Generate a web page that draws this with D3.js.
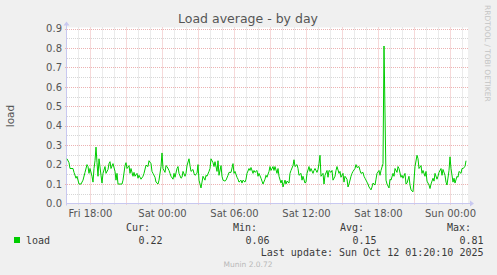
<!DOCTYPE html>
<html>
<head>
<meta charset="utf-8">
<script src="https://cdn.jsdelivr.net/npm/d3@7"></script>
<style>
  html, body { margin: 0; padding: 0; background: #f0f0f0; }
  svg { display: block; font-family: "DejaVu Sans", sans-serif; }
</style>
</head>
<body>
<svg id="chart" width="497" height="275"></svg>
<script>
// ===============================
// data
// ===============================
// 5-minute slot number since Fri 16:05 (slot 0) and the load value
const slots = [
  0, 2, 3, 6, 7, 9, 10, 12, 14, 16, 18, 20, 21, 22, 23, 25, 26, 27, 28, 29,
  30, 31, 32, 34, 35, 36, 38, 39, 41, 42, 43, 44, 46, 48, 49, 50, 51, 53, 55, 56,
  58, 59, 60, 62, 63, 64, 66, 67, 68, 70, 71, 72, 74, 76, 77,
  79, 81, 82, 84, 85, 86, 88, 89, 91, 92, 94, 95, 96, 98, 99, 100, 102, 103, 104, 106,
  107, 108, 110, 111, 112, 114, 115, 116, 118, 119, 120, 122, 123, 124, 126, 127, 128, 130, 131, 132,
  134, 135, 136, 138, 139, 140, 142, 143, 144, 146, 147, 148, 150, 151, 152, 154, 155, 156, 158,
  159, 161, 162, 164, 166, 167, 168, 170, 171, 172, 174, 175, 176, 178, 179, 180, 182, 183, 184, 186,
  187, 188, 190, 191, 192, 194, 195, 196, 198, 199, 200, 202, 203, 204, 206, 207, 208, 210, 211, 212,
  214, 215, 216, 218, 219, 220, 222, 223, 224, 226, 227, 228, 230, 231, 232, 234, 235, 236, 238,
  239, 240, 242, 243, 244, 246, 247, 248, 250, 251, 252, 253, 254, 256, 257, 258, 260, 261, 262, 264,
  265, 266, 268, 269, 270, 272, 273, 274, 276, 277, 278, 280, 281, 282, 284, 285, 286, 288, 289, 290,
  292, 293, 294, 296, 297, 298, 300, 301, 302, 304, 305, 306, 308, 309, 310, 312, 313, 314, 316, 317,
  319, 320, 322, 323, 324, 326, 327, 328, 330, 331, 332, 334, 335, 336, 338, 339, 340, 342, 343, 344,
  346, 347, 348, 350, 351, 352, 354, 355, 356, 358, 359, 360, 362, 363, 364, 366, 367, 368, 370, 371,
  372, 374, 375, 376, 378, 379, 380, 382, 383, 384, 386, 387, 388, 390, 391, 392, 394, 395, 396, 398, 399
];
const load = [
  0.23, 0.21, 0.18, 0.18, 0.16, 0.13, 0.14, 0.10, 0.10, 0.12, 0.16, 0.20, 0.19, 0.155, 0.18, 0.14, 0.11, 0.18, 0.22, 0.29,
  0.21, 0.14, 0.23, 0.145, 0.105, 0.155, 0.19, 0.155, 0.175, 0.205, 0.215, 0.18, 0.205, 0.165, 0.12, 0.155, 0.10, 0.10, 0.10, 0.12,
  0.195, 0.21, 0.18, 0.195, 0.155, 0.18, 0.14, 0.16, 0.14, 0.155, 0.13, 0.145, 0.125, 0.14, 0.155,
  0.197, 0.19, 0.22, 0.205, 0.165, 0.155, 0.135, 0.11, 0.10, 0.12, 0.19, 0.26, 0.18, 0.16, 0.195, 0.19, 0.17, 0.155, 0.14, 0.125,
  0.155, 0.135, 0.18, 0.19, 0.155, 0.13, 0.135, 0.165, 0.14, 0.155, 0.195, 0.23, 0.195, 0.165, 0.175, 0.155, 0.145, 0.155, 0.20, 0.12,
  0.08, 0.11, 0.14, 0.12, 0.145, 0.14, 0.165, 0.18, 0.23, 0.21, 0.19, 0.215, 0.165, 0.22, 0.145, 0.195, 0.14, 0.12, 0.115,
  0.12, 0.145, 0.16, 0.16, 0.205, 0.155, 0.165, 0.135, 0.125, 0.11, 0.12, 0.105, 0.12, 0.11, 0.125, 0.155, 0.18, 0.17, 0.185, 0.155,
  0.17, 0.16, 0.17, 0.14, 0.155, 0.13, 0.115, 0.10, 0.125, 0.145, 0.135, 0.165, 0.19, 0.17, 0.19, 0.17, 0.19, 0.155, 0.18, 0.14,
  0.105, 0.12, 0.085, 0.12, 0.10, 0.115, 0.105, 0.155, 0.17, 0.195, 0.225, 0.19, 0.20, 0.18, 0.145, 0.155, 0.12, 0.14, 0.105,
  0.11, 0.155, 0.19, 0.165, 0.18, 0.155, 0.17, 0.18, 0.16, 0.175, 0.205, 0.248, 0.14, 0.155, 0.10, 0.145, 0.17, 0.135, 0.17, 0.16,
  0.17, 0.12, 0.14, 0.17, 0.19, 0.155, 0.165, 0.135, 0.155, 0.11, 0.14, 0.125, 0.085, 0.10, 0.14, 0.155, 0.165, 0.18, 0.20, 0.185,
  0.19, 0.17, 0.155, 0.16, 0.14, 0.13, 0.11, 0.10, 0.085, 0.07, 0.085, 0.105, 0.095, 0.125, 0.155, 0.17, 0.145, 0.17, 0.205, 0.81,
  0.12, 0.10, 0.08, 0.125, 0.12, 0.155, 0.14, 0.18, 0.16, 0.19, 0.18, 0.135, 0.145, 0.13, 0.155, 0.10, 0.105, 0.14, 0.095, 0.07,
  0.06, 0.12, 0.19, 0.248, 0.23, 0.18, 0.195, 0.155, 0.17, 0.14, 0.165, 0.115, 0.095, 0.077, 0.10, 0.13, 0.115, 0.155, 0.125, 0.14,
  0.16, 0.18, 0.145, 0.175, 0.145, 0.11, 0.095, 0.17, 0.24, 0.18, 0.11, 0.13, 0.105, 0.14, 0.135, 0.165, 0.155, 0.18, 0.18, 0.19, 0.22
];

const yTicks = [0, 0.1, 0.2, 0.3, 0.4, 0.5, 0.6, 0.7, 0.8, 0.9];
const statLabels = ['Cur:', 'Min:', 'Avg:', 'Max:'];
const statValues = ['0.22', '0.06', '0.15', '0.81'];
const seriesName = 'load';
const lastUpdate = 'Last update: Sun Oct 12 01:20:10 2025';

// ===============================
// layout
// ===============================
const P = { left: 67, right: 467, top: 28.5, bottom: 203.5 };
const t0 = new Date(2025, 9, 10, 16, 5);          // slot 0
const STEP = 5 * 60 * 1000;                        // 5 minutes
const t1 = new Date(+t0 + 400 * STEP);

const C = {
  bg: '#f0f0f0',
  text: '#555555',
  minor: '#d6d6d6',
  major: '#ecb2b2',
  axis: '#c8c8f0',
  line: '#00cc00',
};

const data = slots.map((s, i) => ({ t: new Date(+t0 + s * STEP), v: load[i] }));

const svg = d3.select('#chart');
svg.append('rect').attr('width', 497).attr('height', 275).attr('fill', C.bg);

const x = d3.scaleTime().domain([t0, t1]).range([P.left, P.right]);
const y = d3.scaleLinear().domain([0, 0.9]).range([P.bottom, P.top]);
const px = (v) => Math.round(v) + 0.5;

// plot canvas
svg.append('rect')
  .attr('x', P.left).attr('y', P.top - 1)
  .attr('width', P.right - P.left + 1).attr('height', P.bottom - P.top + 1)
  .attr('fill', '#ffffff');

const grid = svg.append('g').attr('stroke-dasharray', '1,1').attr('stroke-width', 1);

// minor grid
const hours = d3.timeHour.every(1).range(t0, t1);
const yMinor = d3.range(0.05, 0.9, 0.1);
grid.selectAll('.vmin').data(hours.filter((d) => d.getHours() % 3 !== 0)).join('line')
  .attr('x1', (d) => px(x(d))).attr('x2', (d) => px(x(d)))
  .attr('y1', P.top - 1).attr('y2', P.bottom + 2)
  .attr('stroke', C.minor);
grid.selectAll('.hmin').data(yMinor).join('line')
  .attr('x1', P.left).attr('x2', P.right + 2)
  .attr('y1', (d) => px(y(d))).attr('y2', (d) => px(y(d)))
  .attr('stroke', C.minor);

// major grid
grid.selectAll('.vmaj').data(hours.filter((d) => d.getHours() % 3 === 0)).join('line')
  .attr('x1', (d) => px(x(d))).attr('x2', (d) => px(x(d)))
  .attr('y1', P.top - 1).attr('y2', P.bottom + 2)
  .attr('stroke', C.major);
grid.selectAll('.hmaj').data(yTicks.slice(1)).join('line')
  .attr('x1', P.left - 2).attr('x2', P.right + 2)
  .attr('y1', (d) => px(y(d))).attr('y2', (d) => px(y(d)))
  .attr('stroke', C.major);

// y axis labels
svg.append('g')
  .attr('transform', `translate(${P.left},0)`)
  .call(d3.axisLeft(y).tickValues(yTicks).tickFormat(d3.format('.1f')).tickSize(0).tickPadding(5))
  .call((g) => g.select('.domain').remove())
  .call((g) => g.selectAll('text')
    .attr('fill', C.text).style('font-family', '"DejaVu Sans", sans-serif').style('font-size', '10px'));

// x axis labels
svg.append('g')
  .attr('transform', `translate(0,${P.bottom})`)
  .call(d3.axisBottom(x).ticks(d3.timeHour.every(6)).tickFormat(d3.timeFormat('%a %H:%M')).tickSize(0).tickPadding(6))
  .call((g) => g.select('.domain').remove())
  .call((g) => g.selectAll('text')
    .attr('fill', C.text).style('font-family', '"DejaVu Sans", sans-serif').style('font-size', '10px'));

// axes lines + arrows
svg.append('line')
  .attr('x1', P.left - 0.5).attr('x2', P.right + 4).attr('y1', P.bottom).attr('y2', P.bottom)
  .attr('stroke', C.axis);
svg.append('line')
  .attr('x1', P.left - 0.5).attr('x2', P.left - 0.5).attr('y1', P.bottom + 2).attr('y2', P.top - 4)
  .attr('stroke', C.axis);
svg.append('path')
  .attr('d', `M${P.right + 3},${P.bottom - 3}L${P.right + 7},${P.bottom}L${P.right + 3},${P.bottom + 3}Z`)
  .attr('fill', C.axis);
svg.append('path')
  .attr('d', `M${P.left - 3.5},${P.top - 3}L${P.left - 0.5},${P.top - 7}L${P.left + 2.5},${P.top - 3}Z`)
  .attr('fill', C.axis);

// data line
svg.append('path')
  .datum(data)
  .attr('fill', 'none')
  .attr('stroke', C.line)
  .attr('stroke-width', 1)
  .attr('stroke-linejoin', 'round')
  .attr('d', d3.line().x((d) => x(d.t)).y((d) => y(d.v)));

// title / labels
svg.append('text')
  .attr('x', 248).attr('y', 23).attr('text-anchor', 'middle')
  .attr('fill', C.text).style('font-size', '12.5px')
  .text('Load average - by day');

svg.append('text')
  .attr('transform', `translate(14,${(P.top + P.bottom) / 2}) rotate(-90)`)
  .attr('text-anchor', 'middle')
  .attr('fill', C.text).style('font-size', '10.5px')
  .text('load');

svg.append('text')
  .attr('transform', 'translate(485,5) rotate(90)')
  .attr('fill', '#c4c4c4').style('font-size', '7.5px')
  .text('RRDTOOL / TOBI OETIKER');

// legend
const mono = '"DejaVu Sans Mono", monospace';
const legend = svg.append('g').style('font-family', mono).style('font-size', '10px').attr('fill', '#3a3a3a');
legend.append('rect')
  .attr('x', 14).attr('y', 237).attr('width', 6).attr('height', 6)
  .attr('fill', C.line);
legend.append('text').attr('x', 26).attr('y', 243.5).text(seriesName);

const statX = d3.scalePoint().domain(statLabels).range([150, 471]);
legend.selectAll('.slab').data(statLabels).join('text')
  .attr('x', (d) => statX(d)).attr('y', 231).attr('text-anchor', 'end')
  .text((d) => d);
legend.selectAll('.sval').data(statValues).join('text')
  .attr('x', (d, i) => statX(statLabels[i]) + 12.5).attr('y', 243.5).attr('text-anchor', 'end')
  .text((d) => d);
legend.append('text').attr('x', 483.5).attr('y', 255.5).attr('text-anchor', 'end').text(lastUpdate);

svg.append('text')
  .attr('x', 248).attr('y', 267).attr('text-anchor', 'middle')
  .attr('fill', '#b8b8b8').style('font-size', '7.5px')
  .text('Munin 2.0.72');
</script>
</body>
</html>
